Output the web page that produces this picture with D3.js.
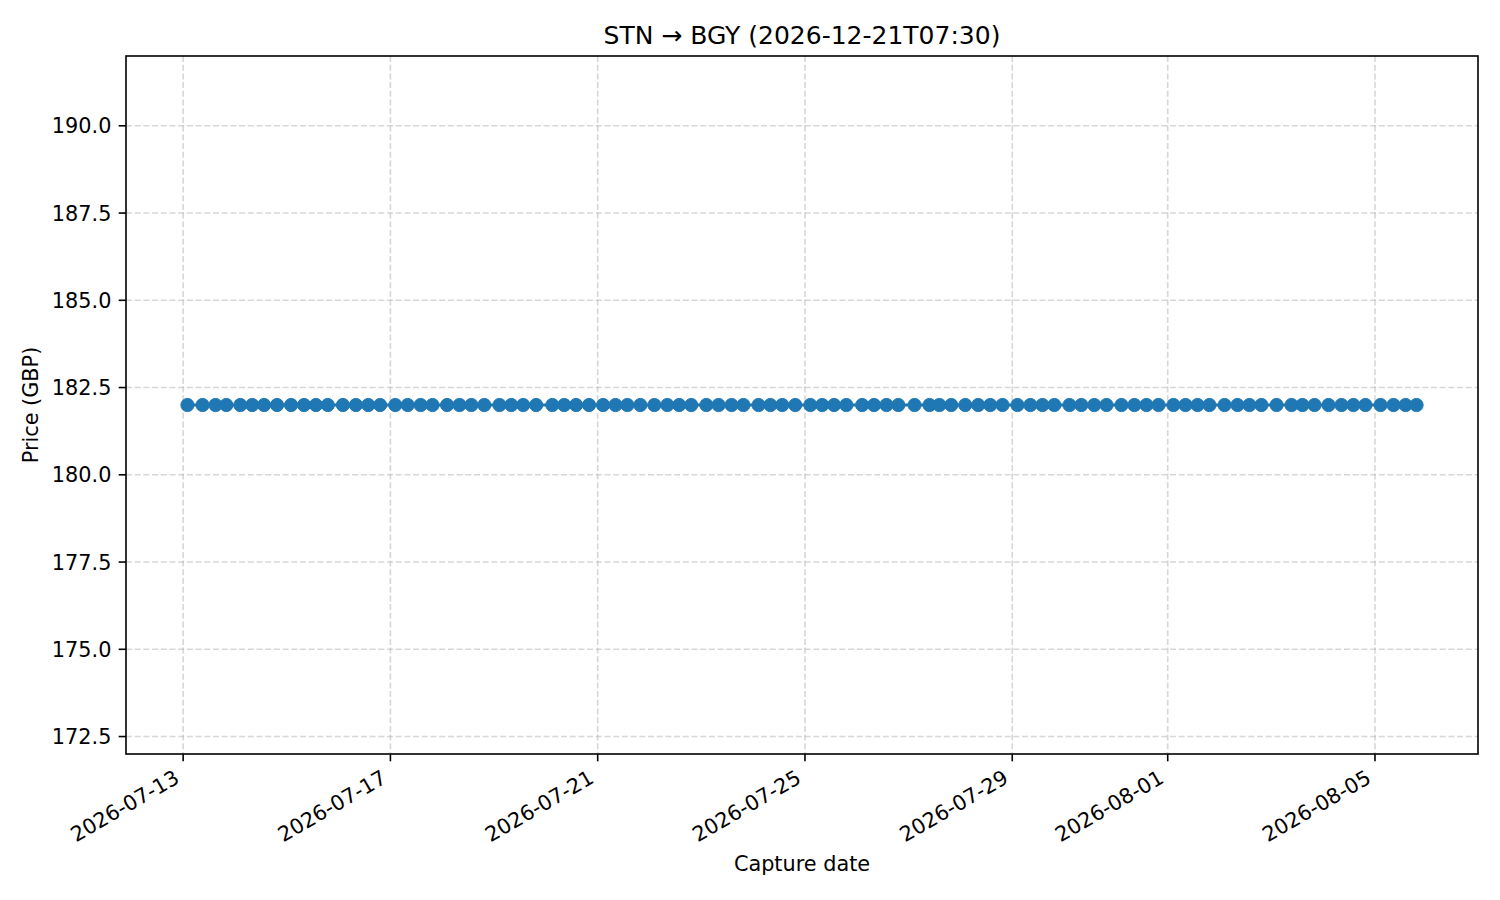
<!DOCTYPE html>
<html>
<head>
<meta charset="utf-8">
<script src="https://cdn.jsdelivr.net/npm/d3@7"></script>
<style>
  html, body { margin: 0; padding: 0; background: #fff; }
  text { font-family: "DejaVu Sans", sans-serif; fill: #000; }
</style>
</head>
<body>
<svg id="chart" width="1500" height="900"></svg>
<script>
const titleText = "STN \u2192 BGY (2026-12-21T07:30)";
const xLabel = "Capture date";
const yLabel = "Price (GBP)";

const captureTimes = [
  "2026-07-13T02:00","2026-07-13T09:00","2026-07-13T15:00","2026-07-13T20:00",
  "2026-07-14T02:30","2026-07-14T08:00","2026-07-14T13:30","2026-07-14T19:30",
  "2026-07-15T02:00","2026-07-15T08:00","2026-07-15T13:30","2026-07-15T19:00",
  "2026-07-16T02:00","2026-07-16T08:00","2026-07-16T13:45","2026-07-16T19:15",
  "2026-07-17T02:15","2026-07-17T08:00","2026-07-17T14:00","2026-07-17T19:30",
  "2026-07-18T02:15","2026-07-18T08:00","2026-07-18T13:30","2026-07-18T19:30",
  "2026-07-19T02:30","2026-07-19T08:00","2026-07-19T13:30","2026-07-19T19:30",
  "2026-07-20T03:00","2026-07-20T08:30","2026-07-20T14:00","2026-07-20T20:00",
  "2026-07-21T02:30","2026-07-21T08:15","2026-07-21T13:45","2026-07-21T19:45",
  "2026-07-22T02:15","2026-07-22T08:15","2026-07-22T13:45","2026-07-22T19:20",
  "2026-07-23T02:20","2026-07-23T08:00","2026-07-23T14:00","2026-07-23T19:30",
  "2026-07-24T02:30","2026-07-24T08:00","2026-07-24T13:30","2026-07-24T19:30",
  "2026-07-25T02:30","2026-07-25T08:00","2026-07-25T13:30","2026-07-25T19:10",
  "2026-07-26T02:30","2026-07-26T08:00","2026-07-26T13:45","2026-07-26T19:15",
  "2026-07-27T02:45","2026-07-27T09:40","2026-07-27T14:15","2026-07-27T19:45",
  "2026-07-28T02:15","2026-07-28T08:15","2026-07-28T13:50","2026-07-28T19:30",
  "2026-07-29T02:25","2026-07-29T08:25","2026-07-29T14:00","2026-07-29T19:30",
  "2026-07-30T02:30","2026-07-30T08:00","2026-07-30T14:00","2026-07-30T19:40",
  "2026-07-31T02:35","2026-07-31T08:35","2026-07-31T14:10","2026-07-31T19:45",
  "2026-08-01T02:40","2026-08-01T08:15","2026-08-01T13:50","2026-08-01T19:20",
  "2026-08-02T02:20","2026-08-02T08:20","2026-08-02T13:50","2026-08-02T19:25",
  "2026-08-03T02:25","2026-08-03T09:20","2026-08-03T14:25","2026-08-03T20:00",
  "2026-08-04T02:30","2026-08-04T08:30","2026-08-04T14:00","2026-08-04T19:35",
  "2026-08-05T02:35","2026-08-05T08:35","2026-08-05T14:10","2026-08-05T19:15"
];
const prices = captureTimes.map(() => 182.0); // every capture read as 182.0 GBP

const xTickDates = ["2026-07-13","2026-07-17","2026-07-21","2026-07-25","2026-07-29","2026-08-01","2026-08-05"];
const yTickValues = [172.5, 175.0, 177.5, 180.0, 182.5, 185.0, 187.5, 190.0];
const yDomain = [172, 192];

// ---- layout ----
const margin = { left: 126, right: 22, top: 56, bottom: 146 };
const W = 1500, H = 900;
const plotW = W - margin.left - margin.right;
const plotH = H - margin.top - margin.bottom;
const color = "#1f77b4";

const parseT = d3.timeParse("%Y-%m-%dT%H:%M");
const parseD = d3.timeParse("%Y-%m-%d");
const data = captureTimes.map((t, i) => ({ t: parseT(t), v: prices[i] }));

const ext = d3.extent(data, d => d.t);
const pad = (ext[1] - ext[0]) * 0.05;
const x = d3.scaleTime()
  .domain([new Date(+ext[0] - pad), new Date(+ext[1] + pad)])
  .range([margin.left, margin.left + plotW]);
const y = d3.scaleLinear().domain(yDomain).range([margin.top + plotH, margin.top]);

const svg = d3.select("#chart");
const xTicks = xTickDates.map(parseD);

// grid
const grid = svg.append("g");
grid.selectAll("line.gx").data(xTicks).enter().append("line")
  .attr("x1", d => x(d)).attr("x2", d => x(d))
  .attr("y1", margin.top).attr("y2", margin.top + plotH)
  .attr("stroke", "#b0b0b0").attr("stroke-opacity", 0.5)
  .attr("stroke-width", 1.6).attr("stroke-dasharray", "6,2.7");
grid.selectAll("line.gy").data(yTickValues).enter().append("line")
  .attr("x1", margin.left).attr("x2", margin.left + plotW)
  .attr("y1", d => y(d)).attr("y2", d => y(d))
  .attr("stroke", "#b0b0b0").attr("stroke-opacity", 0.5)
  .attr("stroke-width", 1.6).attr("stroke-dasharray", "6,2.7");

// line + markers
svg.append("path").datum(data)
  .attr("fill", "none").attr("stroke", color).attr("stroke-width", 3.1)
  .attr("d", d3.line().x(d => x(d.t)).y(d => y(d.v)));
svg.append("g").selectAll("circle").data(data).enter().append("circle")
  .attr("cx", d => x(d.t)).attr("cy", d => y(d.v)).attr("r", 6.6)
  .attr("fill", color).attr("stroke", color).attr("stroke-width", 1);

// spines
svg.append("rect")
  .attr("x", margin.left).attr("y", margin.top)
  .attr("width", plotW).attr("height", plotH)
  .attr("fill", "none").attr("stroke", "#000").attr("stroke-width", 1.6);

// x axis ticks
const xAxisG = svg.append("g");
xAxisG.selectAll("line").data(xTicks).enter().append("line")
  .attr("x1", d => x(d)).attr("x2", d => x(d))
  .attr("y1", margin.top + plotH).attr("y2", margin.top + plotH + 7.3)
  .attr("stroke", "#000").attr("stroke-width", 1.6);
const fmt = d3.timeFormat("%Y-%m-%d");
xAxisG.selectAll("text").data(xTicks).enter().append("text")
  .attr("text-anchor", "end")
  .attr("font-size", "20.8px")
  .attr("transform", d => `translate(${x(d) - 2.5},${margin.top + plotH + 28}) rotate(-30)`)
  .text(d => fmt(d));

// y axis ticks
const yAxisG = svg.append("g");
yAxisG.selectAll("line").data(yTickValues).enter().append("line")
  .attr("x1", margin.left - 7.3).attr("x2", margin.left)
  .attr("y1", d => y(d)).attr("y2", d => y(d))
  .attr("stroke", "#000").attr("stroke-width", 1.6);
yAxisG.selectAll("text").data(yTickValues).enter().append("text")
  .attr("text-anchor", "end").attr("font-size", "20.8px")
  .attr("x", margin.left - 14.6).attr("y", d => y(d)).attr("dy", "0.36em")
  .text(d => d3.format(".1f")(d));

// labels
svg.append("text").attr("x", margin.left + plotW / 2).attr("y", 44.3)
  .attr("text-anchor", "middle").attr("font-size", "25px").text(titleText);
svg.append("text").attr("x", margin.left + plotW / 2).attr("y", 871)
  .attr("text-anchor", "middle").attr("font-size", "20.8px").text(xLabel);
svg.append("text")
  .attr("transform", `translate(37.5,${margin.top + plotH / 2}) rotate(-90)`)
  .attr("text-anchor", "middle").attr("font-size", "20.8px").text(yLabel);
</script>
</body>
</html>
